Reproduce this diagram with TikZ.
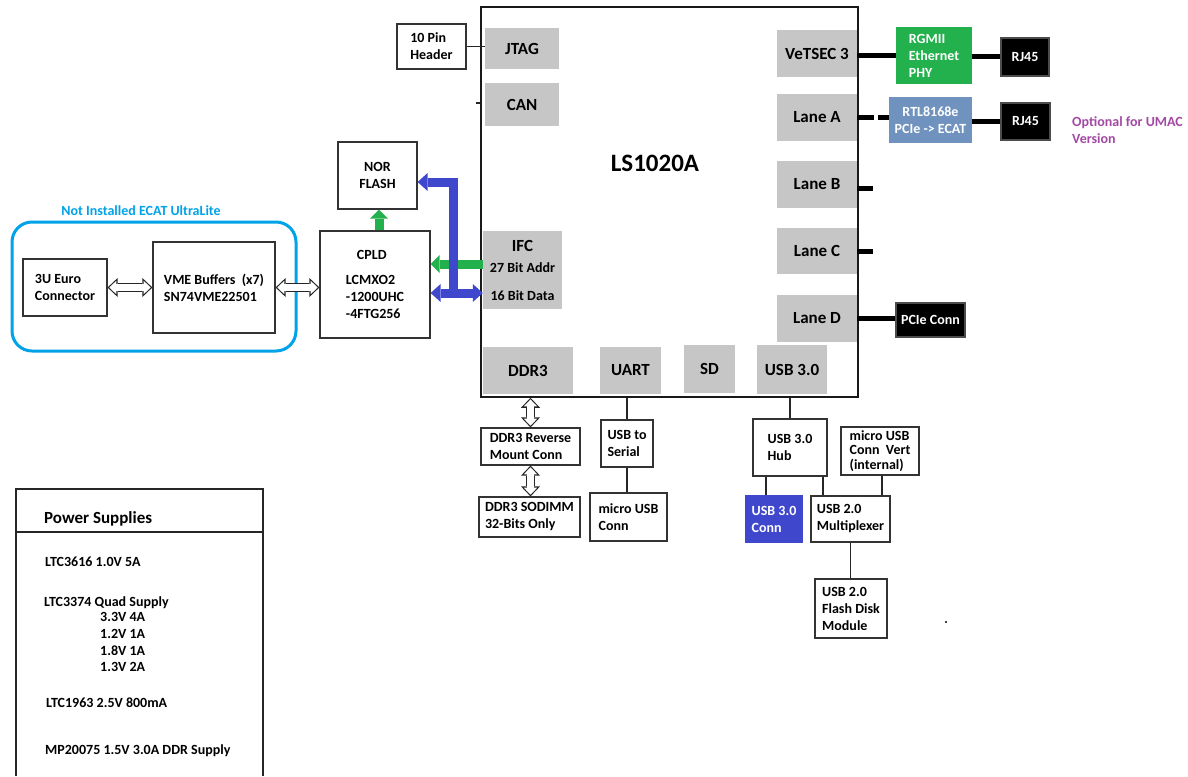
\documentclass[tikz,border=0pt]{standalone}
\usepackage{fontspec}
\setmainfont{Carlito}
\usetikzlibrary{arrows.meta}

\definecolor{portgray}{RGB}{198,198,198}
\definecolor{phygreen}{RGB}{34,177,76}
\definecolor{busblue}{RGB}{63,72,204}
\definecolor{rtlblue}{RGB}{112,146,190}
\definecolor{optpurple}{RGB}{163,73,164}
\definecolor{ecatblue}{RGB}{0,162,232}

\begin{document}
\begin{tikzpicture}[x=1pt, y=-1pt]
  \tikzset{
    box/.style={draw=black!80, line width=1.2pt, fill=white, inner sep=0pt, align=left,
      font=\bfseries\fontsize{14}{17}\selectfont},
    darkbox/.style={box, fill=black, draw=black!70, text=white},
    port/.style={fill=portgray, inner sep=0pt, align=center,
      font=\bfseries\fontsize{17}{20}\selectfont},
    txt/.style={inner sep=0pt, anchor=base west, font=\bfseries\fontsize{14}{17}\selectfont},
    wire/.style={draw=black!85, line width=1.2pt},
    heavy/.style={draw=black, line width=5pt},
    openout/.style={black!85, line width=9pt,
      {Triangle[width=19pt,length=10pt,line width=0pt]}-{Triangle[width=19pt,length=10pt,line width=0pt]}},
    openin/.style={white, line width=6.6pt, shorten <=1.7pt, shorten >=1.7pt,
      {Triangle[width=13.4pt,length=7pt,line width=0pt]}-{Triangle[width=13.4pt,length=7pt,line width=0pt]}},
    greenbus/.style={phygreen, line width=9pt, -{Triangle[width=18pt,length=9pt,line width=0pt]}},
    bluebus/.style={busblue, line width=9pt}
  }
  \path[use as bounding box, fill=white] (0,0) rectangle (1188,776);

  % LS1020A and its ports
  \node[draw=black!90, line width=1.5pt, minimum width=377pt, minimum height=390pt] (soc) at (669.5,202) {};
  \node[font=\bfseries\fontsize{25}{30}\selectfont] (socname) at (655,163) {LS1020A};
  \node[port, minimum width=74pt, minimum height=41pt] (jtag) at (522,48.5) {JTAG};
  \node[port, minimum width=74pt, minimum height=43pt] (can) at (522,104.5) {CAN};
  \node[port, font=\bfseries\fontsize{14}{17}\selectfont, minimum width=79pt, minimum height=78pt] (ifc) at (522.5,270)
    {{\fontsize{17}{20}\selectfont IFC}\\[4pt]27 Bit Addr\\[11pt]16 Bit Data};
  \node[port, minimum width=80pt, minimum height=47pt] (vetsec) at (817,53.5) {VeTSEC 3};
  \node[port, minimum width=80pt, minimum height=47pt] (lanea) at (817,117.5) {Lane A};
  \node[port, minimum width=80pt, minimum height=47pt] (laneb) at (817,184.5) {Lane B};
  \node[port, minimum width=80pt, minimum height=46pt] (lanec) at (817,251) {Lane C};
  \node[port, minimum width=80pt, minimum height=47pt] (laned) at (817,318.5) {Lane D};
  \node[port, minimum width=90pt, minimum height=47pt] (ddr) at (528,370.5) {DDR3};
  \node[port, minimum width=61pt, minimum height=47pt] (uart) at (630.5,370.5) {UART};
  \node[port, minimum width=51pt, minimum height=48pt] (sd) at (709.5,369) {SD};
  \node[port, minimum width=70pt, minimum height=49pt] (usb) at (792,369.5) {USB 3.0};

  % left side: header, flash, cpld
  \node[box, minimum width=69pt, minimum height=45pt] (hdr) at (431.5,46.5) {10 Pin\\Header};
  \coordinate (cantick) at (476,103);
  \node[box, align=center, minimum width=79pt, minimum height=67pt] (nor) at (377.5,175.5) {NOR\\FLASH};
  \node[box, minimum width=110pt, minimum height=107pt] (cpld) at (375,284.5)
    {\hspace*{11pt}CPLD\\[8pt]LCMXO2\\-1200UHC\\-4FTG256};

  % ECAT UltraLite group (not installed)
  \node[draw=ecatblue, line width=3pt, rounded corners=20pt, minimum width=284pt, minimum height=129pt] (ecat) at (154,286.5) {};
  \node[font=\bfseries\fontsize{14}{17}\selectfont, text=ecatblue] (ecatname) at (141,211) {Not Installed ECAT UltraLite};
  \node[box, minimum width=84pt, minimum height=57pt] (euro) at (65,287.5) {3U Euro\\Connector};
  \node[box, minimum width=122pt, minimum height=91pt] (vme) at (214,287.5) {VME Buffers\ \ (x7)\\SN74VME22501};

  % right side: ethernet and pcie
  \node[box, fill=phygreen, draw=phygreen, text=white, minimum width=74pt, minimum height=55pt] (phy) at (934,55.5) {RGMII\\Ethernet\\PHY};
  \node[darkbox, minimum width=48pt, minimum height=38pt] (rjphy) at (1025,57) {RJ45};
  \node[box, fill=rtlblue, draw=rtlblue, text=white, align=center, minimum width=81pt, minimum height=44pt] (rtl) at (930.5,120) {RTL8168e\\PCIe -> ECAT};
  \node[darkbox, minimum width=49pt, minimum height=37pt] (rjrtl) at (1025.5,121.5) {RJ45};
  \node[font=\bfseries\fontsize{14}{17}\selectfont, text=optpurple, align=left, anchor=north west, inner sep=0pt] (optnote) at (1072,116) {Optional for UMAC\\Version};
  \coordinate (bstub) at (873,188);
  \coordinate (cstub) at (873,251);
  \node[darkbox, minimum width=69pt, minimum height=34pt] (pcie) at (930.5,320) {PCIe Conn};

  % bottom: memory, serial, usb
  \node[box, minimum width=99pt, minimum height=37pt] (ddrrev) at (530.5,446.5) {DDR3 Reverse\\Mount Conn};
  \node[box, minimum width=101pt, minimum height=40pt] (sodimm) at (529.5,517) {DDR3 SODIMM\\32-Bits Only};
  \node[box, minimum width=52pt, minimum height=47pt] (u2s) at (627,443.5) {USB to\\Serial};
  \node[box, minimum width=77pt, minimum height=48pt] (musb) at (628.5,517) {micro USB\\Conn};
  \node[box, minimum width=74pt, minimum height=57pt] (hub) at (790,447.5) {USB 3.0\\Hub};
  \node[box, font=\bfseries\fontsize{14}{14.5}\selectfont, minimum width=78pt, minimum height=48pt] (vert) at (880,451) {micro USB\\Conn\ \ Vert\\(internal)};
  \node[box, fill=busblue, draw=busblue, text=white, minimum width=56pt, minimum height=46pt] (u3conn) at (774,519) {USB 3.0\\Conn};
  \node[box, minimum width=79pt, minimum height=46pt] (mux) at (850.5,519) {USB 2.0\\Multiplexer};
  \node[box, minimum width=72pt, minimum height=59pt] (flash) at (851,608.5) {USB 2.0\\Flash Disk\\Module};
  \node[circle, fill=black, inner sep=0.8pt] (dot) at (946,622) {};

  % power supplies panel
  \draw[wire] (16,776) |- (263,489) -- (263,776);
  \draw[wire] (16,532) -- (263,532);
  \node[txt, font=\bfseries\fontsize{17}{20}\selectfont] (psuhead) at (44,523) {Power Supplies};
  \node[txt] (psu1) at (45,566) {LTC3616 1.0V 5A};
  \node[txt] (psu2) at (44,606) {LTC3374 Quad Supply};
  \node[txt] (psu2a) at (100,621) {3.3V 4A};
  \node[txt] (psu2b) at (100,638) {1.2V 1A};
  \node[txt] (psu2c) at (100,655) {1.8V 1A};
  \node[txt] (psu2d) at (100,671) {1.3V 2A};
  \node[txt] (psu3) at (46,707) {LTC1963 2.5V 800mA};
  \node[txt] (psu4) at (45,754) {MP20075 1.5V 3.0A DDR Supply};

  % thin connectors
  \draw[wire] (hdr.east) -- (hdr.east -| jtag.west);
  \draw[wire] (cantick) -- (cantick -| soc.west);
  \draw[wire] (u2s.north |- soc.south) -- (u2s.north);
  \draw[wire] (u2s.south) -- (u2s.south |- musb.north);
  \draw[wire] (hub.north |- soc.south) -- (hub.north);
  \draw[wire] ([xshift=-24pt]hub.south) -- ([xshift=-24pt]hub.south |- u3conn.north);
  \draw[wire] ([xshift=33pt]hub.south) -- ([xshift=33pt]hub.south |- mux.north);
  \draw[wire] ([xshift=2pt]vert.south) -- ([xshift=2pt]vert.south |- mux.north);
  \draw[wire] (mux.south) -- (mux.south |- flash.north);

  % heavy links
  \draw[heavy] (vetsec.east |- phy.west) -- (phy.west);
  \draw[heavy] (phy.east |- rjphy.west) -- (rjphy.west);
  \draw[heavy, dash pattern=on 17pt off 4pt] (lanea.east) -- (lanea.east -| rtl.west);
  \draw[heavy] (rtl.east |- rjrtl.west) -- (rjrtl.west);
  \draw[heavy] (laneb.east |- bstub) -- (bstub);
  \draw[heavy] (lanec.east |- cstub) -- (cstub);
  \draw[heavy] (laned.east) -- (laned.east -| pcie.west);

  % open double arrows
  \draw[openout] (euro.east) -- (euro.east -| vme.west);
  \draw[openin] (euro.east) -- (euro.east -| vme.west);
  \draw[openout] (vme.east) -- (vme.east -| cpld.west);
  \draw[openin] (vme.east) -- (vme.east -| cpld.west);
  \draw[openout] (ddrrev.north |- soc.south) -- (ddrrev.north);
  \draw[openin] (ddrrev.north |- soc.south) -- (ddrrev.north);
  \draw[openout] (ddrrev.south) -- (ddrrev.south |- sodimm.north);
  \draw[openin] (ddrrev.south) -- (ddrrev.south |- sodimm.north);

  % IFC buses
  \draw[greenbus] ([xshift=4pt]cpld.north) -- ([xshift=4pt]cpld.north |- nor.south);
  \draw[greenbus] ([yshift=6pt]ifc.west) -- ([yshift=6pt]ifc.west -| cpld.east);
  \coordinate (busjoin) at (453,293);
  \coordinate (bustop) at (453,182);
  \draw[bluebus, -{Triangle[width=18pt,length=10pt,line width=0pt]}] (busjoin) -- (bustop) -- (bustop -| nor.east);
  \draw[bluebus, {Triangle[width=18pt,length=10pt,line width=0pt]}-{Triangle[width=18pt,length=10pt,line width=0pt]}]
    (busjoin -| ifc.west) -- (busjoin -| cpld.east);
\end{tikzpicture}
\end{document}
